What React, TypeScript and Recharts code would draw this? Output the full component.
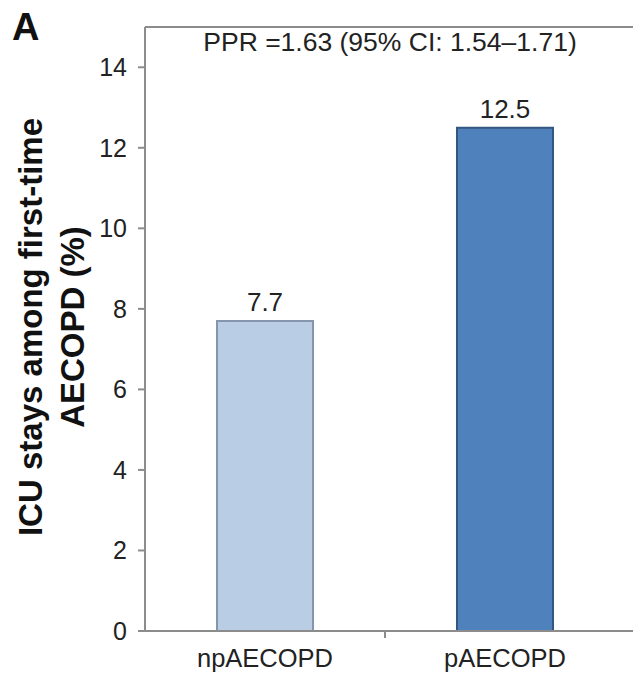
import { BarChart, Bar, XAxis, YAxis, Cell, LabelList, ReferenceLine } from 'recharts';

const groups = ['npAECOPD', 'pAECOPD'];
const icuPct = [7.7, 12.5];
const barColors = ['#b9cde5', '#4f81bd'];
const barEdges = ['#8595ab', '#34577f'];
const yTicks = [0, 2, 4, 6, 8, 10, 12, 14];
const yTitle = ['ICU stays among first-time', 'AECOPD (%)'];
const note = 'PPR =1.63 (95% CI: 1.54\u20131.71)';

const rows = groups.map((g, i) => ({ group: g, pct: icuPct[i] }));

const FONT = '"Liberation Sans", Arial, sans-serif';
const AXIS = '#8c8c8c';

// category label, plus the tick mark on the boundary after the first category
function CatTick(props: any) {
  const { x, y, payload, index } = props;
  const half = payload.offset ?? 0;
  return (
    <g>
      {index === 0 && half > 0 && (
        <line x1={x + half} x2={x + half} y1={y} y2={y + 7} stroke={AXIS} strokeWidth={2} />
      )}
      <text x={x} y={y} dy={36} textAnchor="middle" fontSize={25.5} fontFamily={FONT} fill="#222">
        {payload.value}
      </text>
    </g>
  );
}

function YTitle(props: any) {
  const vb = props.viewBox;
  const cy = vb.y + vb.height / 2 - 2;
  return (
    <g fontFamily={FONT} fontWeight="bold" fontSize={33} fill="#111">
      <text x={42} y={cy} transform={`rotate(-90 42 ${cy})`} textAnchor="middle">
        {yTitle[0]}
      </text>
      <text x={84} y={cy} transform={`rotate(-90 84 ${cy})`} textAnchor="middle">
        {yTitle[1]}
      </text>
    </g>
  );
}

export default function App() {
  return (
    <div style={{ position: 'absolute', left: 0, top: 0, width: 633, height: 674, overflow: 'hidden', background: '#fff' }}>
      <div style={{ position: 'absolute', left: 12, top: 6, fontFamily: FONT, fontWeight: 'bold', fontSize: 38, color: '#111' }}>
        A
      </div>
      <BarChart
        width={660}
        height={674}
        data={rows}
        margin={{ top: 27, right: 15, bottom: 7, left: 85 }}
        barCategoryGap="30%"
      >
        <XAxis
          dataKey="group"
          type="category"
          padding={{ left: 0, right: 20 }}
          height={36}
          tickLine={false}
          tickSize={0}
          tickMargin={0}
          tick={<CatTick />}
          axisLine={{ stroke: AXIS, strokeWidth: 2 }}
        />
        <YAxis
          width={60}
          domain={[0, 15]}
          ticks={yTicks}
          interval={0}
          tickSize={7}
          tickMargin={11}
          tickLine={{ stroke: AXIS, strokeWidth: 2 }}
          axisLine={{ stroke: AXIS, strokeWidth: 2 }}
          tick={{ fill: '#222', fontSize: 25, fontFamily: FONT }}
          label={{ content: (p: any) => <YTitle {...p} /> }}
        />
        <ReferenceLine
          y={15}
          stroke={AXIS}
          strokeWidth={2}
          label={{
            value: note,
            position: 'insideTop',
            offset: 0,
            dy: 5,
            dx: -5,
            fill: '#222',
            fontSize: 26.5,
            fontFamily: FONT,
          }}
        />
        <Bar dataKey="pct" strokeWidth={2} isAnimationActive={false}>
          {rows.map((r, i) => (
            <Cell key={r.group} fill={barColors[i]} stroke={barEdges[i]} />
          ))}
          <LabelList
            dataKey="pct"
            position="top"
            offset={10}
            fill="#222"
            fontSize={26}
            fontFamily={FONT}
            formatter={(v: any) => Number(v).toFixed(1)}
          />
        </Bar>
      </BarChart>
    </div>
  );
}
